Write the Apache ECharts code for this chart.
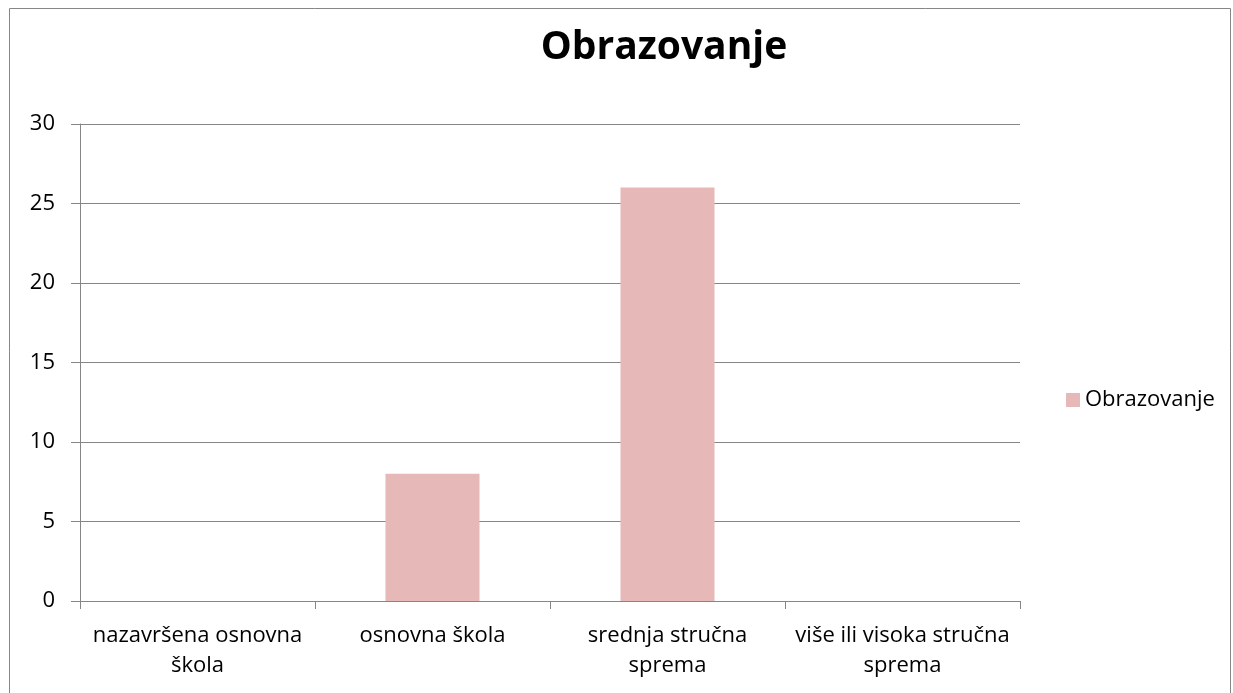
<!DOCTYPE html>
<html><head><meta charset="utf-8">
<script src="https://cdn.jsdelivr.net/npm/echarts@6/dist/echarts.min.js"></script>
<style>html,body{margin:0;padding:0;background:#fff}#c{width:1233px;height:693px}</style>
</head><body><div id="c"></div>
<script>
const categories = ['nazavršena osnovna\nškola', 'osnovna škola', 'srednja stručna\nsprema', 'više ili visoka stručna\nsprema'];
const values = [0, 8, 26, 0];
const seriesName = 'Obrazovanje';
const titleText = 'Obrazovanje';

const FONT = 'Open Sans';
const chart = echarts.init(document.getElementById('c'), null, {renderer: 'canvas'});
chart.setOption({
  animation: false,
  backgroundColor: '#fff',
  graphic: [{type: 'rect', shape: {x: 9.5, y: 8.5, width: 1221, height: 700}, style: {fill: 'none', stroke: '#868686', lineWidth: 1}, silent: true}],
  title: {text: titleText, left: 659, top: 23, textAlign: 'center', textStyle: {fontFamily: FONT, fontSize: 39, fontWeight: 'bold', color: '#000'}},
  legend: {data: [seriesName], orient: 'vertical', left: 1061, top: 384, itemWidth: 14, itemHeight: 14, itemGap: 8, icon: 'rect',
    textStyle: {fontFamily: FONT, fontSize: 22, color: '#000'}},
  grid: {left: 80, right: 213, top: 124, bottom: 92, containLabel: false},
  xAxis: {type: 'category', data: categories,
    axisLine: {lineStyle: {color: '#868686', width: 1}},
    axisTick: {show: true, length: 8, lineStyle: {color: '#868686'}},
    axisLabel: {fontFamily: FONT, fontSize: 22, color: '#000', margin: 20, lineHeight: 30, interval: 0}},
  yAxis: {type: 'value', min: 0, max: 30, interval: 5,
    axisLine: {show: true, lineStyle: {color: '#868686'}},
    axisTick: {show: true, length: 9, lineStyle: {color: '#868686'}},
    splitLine: {lineStyle: {color: '#868686', width: 1}},
    axisLabel: {fontFamily: FONT, fontSize: 22, color: '#000', margin: 25}},
  series: [{name: seriesName, type: 'bar', data: values, barWidth: '40%', itemStyle: {color: '#E6B9B8'}}]
});
</script></body></html>
